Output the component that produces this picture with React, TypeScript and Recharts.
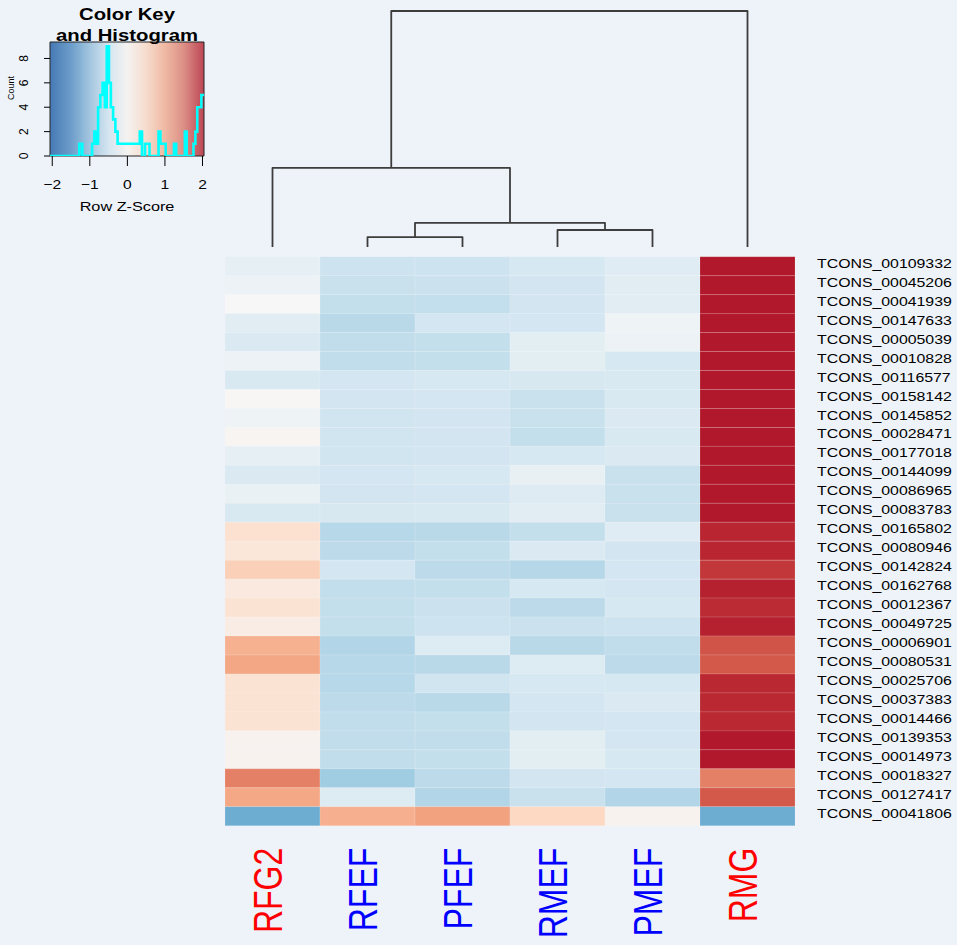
import React from "react";
import {
  BarChart,
  Bar,
  Cell,
  XAxis,
  YAxis,
  LineChart,
  Line,
  ComposedChart,
  ReferenceArea,
} from "recharts";

const FONT = '"Liberation Sans", Arial, Helvetica, sans-serif';
const BG = "#eef3f9";
const W = 957;
const H = 945;

// columns of the heatmap, left to right (dendrogram order)
const columns = ["RFG2", "RFEF", "PFEF", "RMEF", "PMEF", "RMG"];
const columnColors = ["#ff0000", "#0000ff", "#0000ff", "#0000ff", "#0000ff", "#ff0000"];

// rows, top to bottom
const genes = [
  "TCONS_00109332", "TCONS_00045206", "TCONS_00041939", "TCONS_00147633", "TCONS_00005039",
  "TCONS_00010828", "TCONS_00116577", "TCONS_00158142", "TCONS_00145852", "TCONS_00028471",
  "TCONS_00177018", "TCONS_00144099", "TCONS_00086965", "TCONS_00083783", "TCONS_00165802",
  "TCONS_00080946", "TCONS_00142824", "TCONS_00162768", "TCONS_00012367", "TCONS_00049725",
  "TCONS_00006901", "TCONS_00080531", "TCONS_00025706", "TCONS_00037383", "TCONS_00014466",
  "TCONS_00139353", "TCONS_00014973", "TCONS_00018327", "TCONS_00127417", "TCONS_00041806",
];

// row z-scores, one array per column
const zRFG2 = [-0.22, -0.14, 0.0, -0.28, -0.38, -0.14, -0.4, 0.02, -0.12, 0.05, -0.22, -0.38, -0.18, -0.4, 0.41,
  0.3, 0.6, 0.25, 0.36, 0.2, 0.89, 0.98, 0.36, 0.36, 0.36, 0.09, 0.09, 1.27, 0.97, -1.24];
const zRFEF = [-0.53, -0.57, -0.6, -0.69, -0.63, -0.63, -0.46, -0.49, -0.5, -0.5, -0.5, -0.46, -0.49, -0.41, -0.71,
  -0.67, -0.46, -0.62, -0.6, -0.6, -0.75, -0.71, -0.71, -0.67, -0.63, -0.63, -0.63, -0.88, -0.34, 0.9];
const zPFEF = [-0.53, -0.55, -0.61, -0.46, -0.6, -0.6, -0.43, -0.46, -0.49, -0.49, -0.49, -0.43, -0.46, -0.4, -0.69,
  -0.6, -0.67, -0.6, -0.55, -0.53, -0.34, -0.69, -0.5, -0.69, -0.6, -0.63, -0.6, -0.67, -0.75, 1.02];
const zRMEF = [-0.43, -0.49, -0.49, -0.46, -0.26, -0.26, -0.41, -0.57, -0.57, -0.6, -0.43, -0.2, -0.33, -0.28, -0.6,
  -0.37, -0.72, -0.43, -0.67, -0.55, -0.69, -0.34, -0.43, -0.46, -0.49, -0.26, -0.26, -0.49, -0.57, 0.52];
const zPMEF = [-0.3, -0.28, -0.28, -0.12, -0.14, -0.43, -0.4, -0.4, -0.37, -0.4, -0.37, -0.57, -0.57, -0.57, -0.3,
  -0.49, -0.46, -0.46, -0.43, -0.53, -0.63, -0.67, -0.43, -0.37, -0.46, -0.46, -0.43, -0.46, -0.75, 0.09];
const zRMG = [2.0, 2.0, 2.0, 2.0, 2.0, 2.0, 2.0, 2.0, 2.0, 2.0, 2.0, 2.0, 2.0, 2.0, 1.9,
  1.9, 1.78, 1.94, 1.87, 1.94, 1.58, 1.54, 1.89, 1.89, 1.89, 2.0, 2.0, 1.27, 1.54, -1.24];
const zByColumn = [zRFG2, zRFEF, zPFEF, zRMEF, zPMEF, zRMG];

// column dendrogram, hclust style: negative = leaf, positive = earlier merge
const colMerge = [[-2, -3], [-4, -5], [1, 2], [-1, 3], [4, -6]];
const colHeight = [0.42, 0.72, 1.02, 3.35, 10];

// colour key histogram (step outline)
const histX = [-2.06, -1.28, -1.2, -0.94, -0.88, -0.82, -0.78, -0.72, -0.66, -0.6, -0.55, -0.49, -0.44, -0.38,
  -0.32, -0.26, -0.2, 0.33, 0.39, 0.47, 0.59, 0.83, 0.88, 1.02, 1.24, 1.3, 1.53, 1.58, 1.76, 1.81, 1.86, 1.97, 2.04];
const histCount = [0, 1, 0, 1, 2, 1, 4, 5, 6, 4, 9, 6, 4, 3, 2, 1, 1, 2, 0, 1, 0, 2, 1, 0, 1, 0, 2, 0, 1, 2, 4, 5, 5];
const keyTicks = [-2, -1, 0, 1, 2];
const countTicks = [0, 2, 4, 6, 8];

const rdbu = ["#2166AC", "#4393C3", "#92C5DE", "#D1E5F0", "#F7F7F7", "#FDDBC7", "#F4A582", "#D6604D", "#B2182B"];
const keyStops = [
  [-2, "#4a7db7"], [-1.5, "#6c9dca"], [-1, "#a3c6df"], [-0.5, "#d5e5f0"], [0, "#f4f2f0"],
  [0.5, "#f6dccd"], [1, "#efb9a3"], [1.5, "#dc8f86"], [2, "#bf4b58"],
] as const;

function hexToRgb(h: string) {
  const n = parseInt(h.slice(1), 16);
  return [(n >> 16) & 255, (n >> 8) & 255, n & 255];
}

function zColor(z: number) {
  const t = Math.max(0, Math.min(8, (z + 2) * 2));
  const i = Math.min(7, Math.floor(t));
  const f = t - i;
  const a = hexToRgb(rdbu[i]);
  const b = hexToRgb(rdbu[i + 1]);
  const c = a.map((v, k) => Math.round(v + (b[k] - v) * f));
  return `rgb(${c[0]},${c[1]},${c[2]})`;
}

const rows = genes.map((g) => {
  const r: Record<string, any> = { gene: g };
  columns.forEach((c) => (r[c] = 1));
  return r;
});

const nodes: { x: number; h: number }[] = [];
const dendroSegments = colMerge.map(([a, b], k) => {
  const at = (m: number) => (m < 0 ? { x: -m - 0.5, h: 0 } : nodes[m - 1]);
  const L = at(a);
  const R = at(b);
  const h = colHeight[k];
  nodes.push({ x: (L.x + R.x) / 2, h });
  return [
    { x: L.x, h: L.h },
    { x: L.x, h },
    { x: R.x, h },
    { x: R.x, h: R.h },
  ];
});

const histData = histX.map((x, i) => ({ x, count: histCount[i] }));
const KEY_MIN = -2.06;
const KEY_MAX = 2.04;
const COUNT_MAX = 9.35;

const ColTick = (props: any) => {
  const { x, y, payload } = props;
  const i = Math.floor(payload.value);
  return (
    <text
      transform={`translate(${x + 9},${y + 22}) scale(1.25,1) rotate(-90)`}
      textAnchor="end"
      fontSize={32}
      fontFamily={FONT}
      fill={columnColors[i]}
    >
      {columns[i]}
    </text>
  );
};

const GeneTick = (props: any) => {
  const { x, y, payload } = props;
  return (
    <text
      transform={`translate(${x + 22},${y + 1.6}) scale(1.27,1)`}
      fontSize={12.5}
      fontFamily={FONT}
      fill="#000"
    >
      {payload.value}
    </text>
  );
};

const KeyXTick = (props: any) => {
  const { x, y, payload } = props;
  const v = payload.value;
  return (
    <text
      transform={`translate(${x},${y + 23}) scale(1.2,1)`}
      textAnchor="middle"
      fontSize={13}
      fontFamily={FONT}
      fill="#000"
    >
      {v < 0 ? `\u2212${-v}` : `${v}`}
    </text>
  );
};

const CountTick = (props: any) => {
  const { x, y, payload } = props;
  return (
    <text
      transform={`translate(${x - 16},${y}) rotate(-90)`}
      textAnchor="middle"
      fontSize={12}
      fontFamily={FONT}
      fill="#000"
    >
      {payload.value}
    </text>
  );
};

export default function App() {
  return (
    <div
      style={{
        position: "absolute",
        left: 0,
        top: 0,
        width: W,
        height: H,
        background: BG,
        overflow: "hidden",
      }}
    >
      {/* heatmap */}
      <div style={{ position: "absolute", left: 0, top: 0 }}>
        <BarChart
          width={W}
          height={H}
          layout="vertical"
          data={rows}
          margin={{ top: 256.7, right: 0, bottom: 0, left: 225 }}
          barCategoryGap={0}
          barGap={0}
        >
          <XAxis
            type="number"
            domain={[0, 6]}
            ticks={columns.map((_, i) => i + 0.5)}
            interval={0}
            height={119.3}
            tickLine={false}
            axisLine={false}
            tickSize={0}
            tickMargin={0}
            tick={ColTick}
          />
          <YAxis
            type="category"
            dataKey="gene"
            orientation="right"
            width={162}
            interval={0}
            tickLine={false}
            axisLine={false}
            tickSize={0}
            tickMargin={0}
            tick={GeneTick}
          />
          {columns.map((c, i) => (
            <Bar key={c} dataKey={c} stackId="z" isAnimationActive={false}>
              {rows.map((r, j) => (
                <Cell
                  key={r.gene}
                  fill={zColor(zByColumn[i][j])}
                  stroke="#ffffff"
                  strokeOpacity={0.18}
                  strokeWidth={0.8}
                />
              ))}
            </Bar>
          ))}
        </BarChart>
      </div>

      {/* column dendrogram */}
      <div style={{ position: "absolute", left: 0, top: 0 }}>
        <LineChart width={W} height={260} margin={{ top: 11, right: 162, bottom: 13, left: 225 }}>
          <XAxis type="number" dataKey="x" domain={[0, 6]} hide />
          <YAxis type="number" domain={[0, 10]} hide />
          {dendroSegments.map((seg, k) => (
            <Line
              key={k}
              data={seg}
              dataKey="h"
              type="linear"
              stroke="#3d3d3d"
              strokeWidth={1.8}
              strokeLinejoin="round"
              dot={false}
              activeDot={false}
              isAnimationActive={false}
            />
          ))}
        </LineChart>
      </div>

      {/* colour key and histogram */}
      <div style={{ position: "absolute", left: 0, top: 0 }}>
        <ComposedChart width={220} height={220} data={histData} margin={{ top: 42, right: 16, bottom: 0, left: 0 }}>
          <defs>
            <linearGradient id="keyGrad" x1="0" y1="0" x2="1" y2="0">
              {keyStops.map(([v, col]) => (
                <stop key={v} offset={(v - KEY_MIN) / (KEY_MAX - KEY_MIN)} stopColor={col} />
              ))}
            </linearGradient>
          </defs>
          <XAxis
            type="number"
            dataKey="x"
            domain={[KEY_MIN, KEY_MAX]}
            ticks={keyTicks}
            interval={0}
            height={64}
            tickSize={10}
            tickMargin={0}
            axisLine={false}
            tickLine={{ stroke: "#000" }}
            tick={KeyXTick}
            allowDataOverflow
          />
          <YAxis
            type="number"
            domain={[0, COUNT_MAX]}
            ticks={countTicks}
            interval={0}
            width={50}
            tickSize={6}
            tickMargin={0}
            axisLine={false}
            tickLine={{ stroke: "#000" }}
            tick={CountTick}
            allowDataOverflow
          />
          <ReferenceArea
            x1={KEY_MIN}
            x2={KEY_MAX}
            y1={0}
            y2={COUNT_MAX}
            fill="url(#keyGrad)"
            fillOpacity={1}
            stroke="#222"
            strokeWidth={1}
          />
          <Line
            type="stepAfter"
            dataKey="count"
            stroke="#00ffff"
            strokeWidth={2.6}
            dot={false}
            activeDot={false}
            isAnimationActive={false}
          />
        </ComposedChart>
      </div>

      {/* key titles */}
      <svg
        width={220}
        height={220}
        style={{ position: "absolute", left: 0, top: 0, pointerEvents: "none" }}
      >
        <text
          transform="translate(127,20) scale(1.27,1)"
          textAnchor="middle"
          fontSize={16}
          fontWeight="bold"
          fontFamily={FONT}
          fill="#000"
        >
          Color Key
        </text>
        <text
          transform="translate(127,41) scale(1.27,1)"
          textAnchor="middle"
          fontSize={16}
          fontWeight="bold"
          fontFamily={FONT}
          fill="#000"
        >
          and Histogram
        </text>
        <text
          transform="translate(127,211) scale(1.25,1)"
          textAnchor="middle"
          fontSize={13}
          fontFamily={FONT}
          fill="#000"
        >
          Row Z-Score
        </text>
        <text
          transform="translate(14,88) rotate(-90)"
          textAnchor="middle"
          fontSize={9}
          fontFamily={FONT}
          fill="#000"
        >
          Count
        </text>
      </svg>
    </div>
  );
}
